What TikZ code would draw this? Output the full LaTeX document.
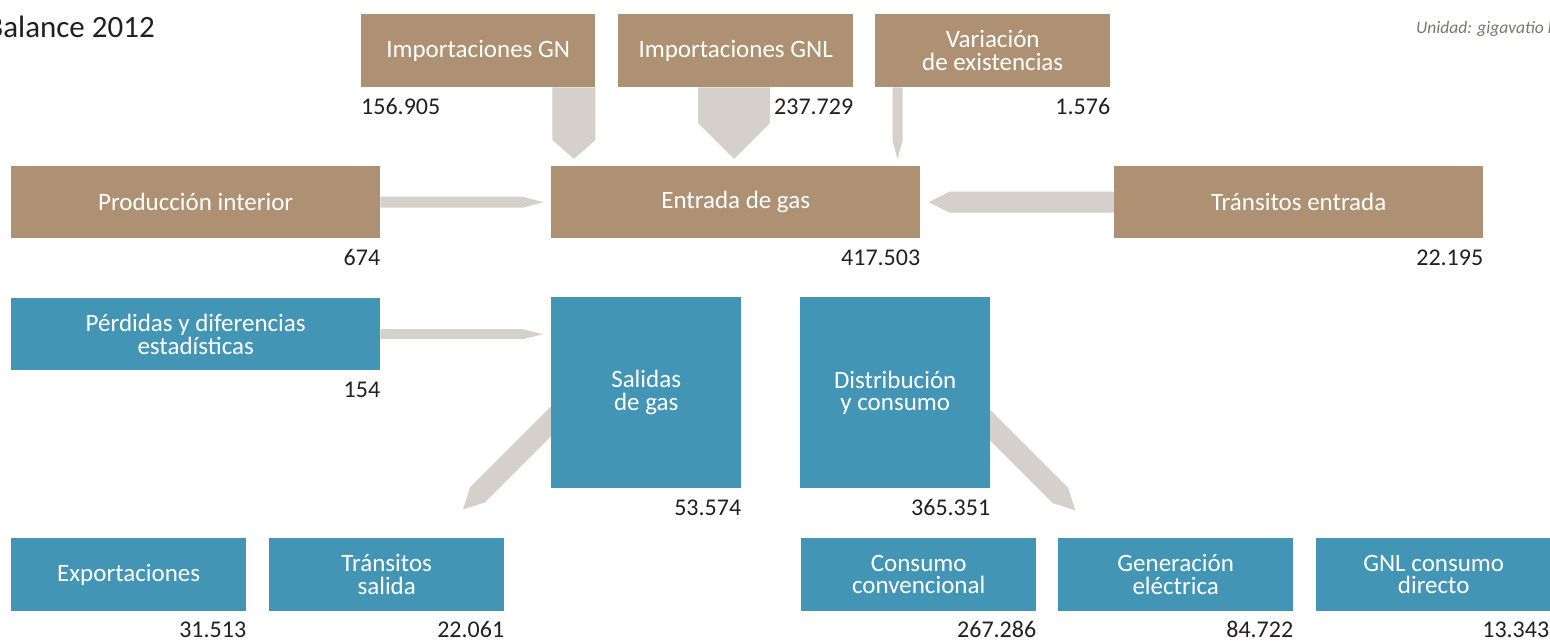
\documentclass[tikz,border=0pt]{standalone}
\usepackage{fontspec}
\setmainfont{Carlito}
\usetikzlibrary{calc,backgrounds}
\definecolor{brownbox}{HTML}{AD9172}
\definecolor{bluebox}{HTML}{4395B5}
\definecolor{flowc}{HTML}{D5D0CA}
\definecolor{numc}{HTML}{231F20}
\definecolor{unitc}{HTML}{77776F}
% fat arrow: #1 start, #2 tip, #3 half width, #4 tip length
\newcommand\flowarrow[4]{%
  \coordinate (fab) at ($(#2)!#4!(#1)$);
  \fill[flowc] ($(#1)!#3!90:(#2)$) -- ($(fab)!#3!90:(#2)$) -- (#2)
    -- ($(fab)!#3!-90:(#2)$) -- ($(#1)!#3!-90:(#2)$) -- cycle;
}
\begin{document}
\begin{tikzpicture}[x=1pt,y=-1pt,
  box/.style={anchor=north west, inner sep=0pt, text=white, align=center,
    font=\fontsize{25}{22.5}\selectfont},
  bbox/.style={box, fill=brownbox},
  cbox/.style={box, fill=bluebox},
  wide/.style={minimum width=369pt, minimum height=72pt},
  mid/.style={minimum width=235pt, minimum height=73pt},
  sq/.style={minimum width=190pt, minimum height=191pt},
  val/.style={anchor=base east, inner sep=0pt, text=numc,
    font=\fontsize{24}{24}\selectfont}]
\useasboundingbox (0,0) rectangle (1550,640);

% title and unit
\node[anchor=base east, inner sep=0pt, text=numc, font=\fontsize{31}{31}\selectfont] (title) at (155,37) {Balance 2012};
\node[anchor=base west, inner sep=0pt, text=unitc, font=\fontsize{17.5}{17.5}\selectfont\itshape] (unit) at (1416,33) {Unidad: gigavatio h};

% top row
\node[bbox, mid, minimum width=234pt] (impgn) at (361,14) {Importaciones GN};
\node[bbox, mid] (impgnl) at (618,14) {Importaciones GNL};
\node[bbox, mid] (varex) at (875,14) {Variación\\de existencias};
\node[val, anchor=base west] (vimpgn) at ($(impgn.south west)+(0,27)$) {156.905};
\node[val] (vimpgnl) at ($(impgnl.south east)+(0,27)$) {237.729};
\node[val] (vvarex) at ($(varex.south east)+(0,27)$) {1.576};

% second row
\node[bbox, wide] (prod) at (11,166) {Producción interior};
\node[bbox, wide] (ent) at (551,166) {Entrada de gas};
\node[bbox, wide] (tre) at (1114,166) {Tránsitos entrada};
\node[val] (vprod) at ($(prod.south east)+(0,27)$) {674};
\node[val] (vent) at ($(ent.south east)+(0,27)$) {417.503};
\node[val] (vtre) at ($(tre.south east)+(0,27)$) {22.195};

% third row
\node[cbox, wide] (per) at (11,298) {Pérdidas y diferencias\\estadísticas};
\node[cbox, sq] (sal) at (551,297) {Salidas\\de gas};
\node[cbox, sq] (dis) at (800,297) {Distribución\\y consumo};
\node[val] (vper) at ($(per.south east)+(0,27)$) {154};
\node[val] (vsal) at ($(sal.south east)+(0,27)$) {53.574};
\node[val] (vdis) at ($(dis.south east)+(0,27)$) {365.351};

% bottom row
\node[cbox, mid] (exp) at (11,538) {Exportaciones};
\node[cbox, mid] (trs) at (269,538) {Tránsitos\\salida};
\node[cbox, mid] (cc) at (801,538) {Consumo\\convencional};
\node[cbox, mid] (ge) at (1058,538) {Generación\\eléctrica};
\node[cbox, mid] (gnlcd) at (1316,538) {GNL consumo\\directo};
\node[val] (vexp) at ($(exp.south east)+(0,26)$) {31.513};
\node[val] (vtrs) at ($(trs.south east)+(0,26)$) {22.061};
\node[val] (vcc) at ($(cc.south east)+(0,26)$) {267.286};
\node[val] (vge) at ($(ge.south east)+(0,26)$) {84.722};
\node[val] (vgnlcd) at ($(gnlcd.south east)+(-2,26)$) {13.343};

% flows
\begin{pgfonlayer}{background}
  \coordinate (a1s) at ($(impgn.south east)+(-21.5,0)$);
  \coordinate (a1t) at ($(a1s |- ent.north)+(0,-7)$);
  \flowarrow{a1s}{a1t}{21.5pt}{19pt}
  \coordinate (a2s) at ($(impgnl.south)+(-1.5,0)$);
  \coordinate (a2t) at ($(a2s |- ent.north)+(0,-7)$);
  \flowarrow{a2s}{a2t}{36pt}{36pt}
  \coordinate (a3s) at ($(varex.south west)+(22.5,0)$);
  \coordinate (a3t) at ($(a3s |- ent.north)+(0,-7)$);
  \flowarrow{a3s}{a3t}{5pt}{18pt}
  \coordinate (a4t) at ($(ent.west)+(-8,0)$);
  \flowarrow{prod.east}{a4t}{5.5pt}{20pt}
  \coordinate (a5t) at ($(ent.east)+(8,0)$);
  \flowarrow{tre.west}{a5t}{10.5pt}{21pt}
  \coordinate (a6t) at ($(sal.west |- per.east)+(-8,0)$);
  \flowarrow{per.east}{a6t}{5pt}{20pt}
  \coordinate (a7s) at ($(sal.center)+(-55,-11.5)$);
  \coordinate (a7t) at ($(sal.south west)+(-88,21)$);
  \flowarrow{a7s}{a7t}{10.6pt}{20.5pt}
  \coordinate (a8s) at ($(dis.center)+(55,-7.5)$);
  \coordinate (a8t) at ($(dis.south east)+(85,22)$);
  \flowarrow{a8s}{a8t}{10.8pt}{21pt}
\end{pgfonlayer}
\end{tikzpicture}
\end{document}
